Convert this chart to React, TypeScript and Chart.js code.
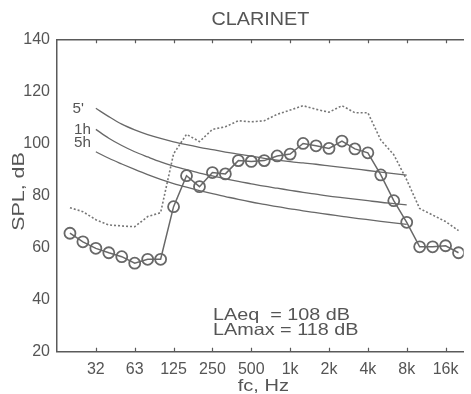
import React, { useEffect, useRef } from 'react';
import { Chart, registerables } from 'chart.js';

Chart.register(...registerables);

// Third-octave band centre frequencies (Hz)
const bandFreqs = [20, 25, 31.5, 40, 50, 63, 80, 100, 125, 160, 200, 250, 315, 400, 500, 630, 800, 1000, 1250, 1600, 2000, 2500, 3150, 4000, 5000, 6300, 8000, 10000, 12500, 16000, 20000];

// Measured clarinet spectrum (circles), dB
const clarinetSPL = [65.5, 62.2, 59.7, 58.0, 56.5, 54.0, 55.5, 55.5, 75.7, 87.6, 83.4, 88.8, 88.3, 93.4, 93.1, 93.4, 95.2, 95.9, 100.0, 99.1, 98.1, 100.9, 97.9, 96.4, 87.9, 78.0, 69.7, 60.3, 60.3, 60.7, 58.0];

// Maximum spectrum (dotted), dB
const maxSPL = [75.3, 73.8, 70.7, 68.7, 68.3, 68.0, 71.9, 73.4, 96.0, 103.5, 100.7, 105.4, 106.4, 108.7, 108.3, 108.7, 111.2, 112.8, 114.5, 113.1, 112.0, 114.5, 111.8, 111.8, 101.3, 95.7, 86.0, 75.0, 72.5, 70.0, 66.5];

// Criterion curves (31.5 Hz .. 8 kHz)
const critFreqs = [31.5, 40, 50, 63, 80, 100, 125, 160, 200, 250, 315, 400, 500, 630, 800, 1000, 1250, 1600, 2000, 2500, 3150, 4000, 5000, 6300, 8000];
const crit5min = [113.5, 110.3, 107.4, 105.2, 103.4, 101.9, 100.6, 99.5, 98.5, 97.6, 96.7, 95.9, 95.1, 94.3, 93.6, 93.0, 92.5, 92.0, 91.4, 90.8, 90.2, 89.6, 89.0, 88.4, 87.8];
const crit1h = [105.4, 102.0, 99.2, 96.8, 94.8, 92.9, 91.3, 89.9, 88.6, 87.5, 86.4, 85.4, 84.5, 83.6, 82.8, 82.0, 81.2, 80.5, 79.8, 79.2, 78.6, 78.0, 77.4, 76.9, 76.4];
const crit5h = [96.8, 94.3, 92.1, 90.0, 88.0, 86.2, 84.6, 83.2, 81.9, 80.7, 79.6, 78.5, 77.5, 76.6, 75.7, 74.9, 74.1, 73.4, 72.7, 72.0, 71.3, 70.7, 70.1, 69.5, 68.9];
const critLabels = ["5'", '1h', '5h'];

// Axis ticks
const tickFreqs = [31.5, 63, 125, 250, 500, 1000, 2000, 4000, 8000, 16000];
const tickLabels = ['32', '63', '125', '250', '500', '1k', '2k', '4k', '8k', '16k'];
const yTicks = [20, 40, 60, 80, 100, 120, 140];

const titleText = 'CLARINET';
const xTitle = 'fc, Hz';
const yTitle = 'SPL, dB';
const noteLines = ['LAeq  = 108 dB', 'LAmax = 118 dB'];

const FONT = '"Liberation Sans", Arial, Helvetica, sans-serif';
const TEXT = '#555555';
const AXIS = '#5a5a5a';
const LINE = '#686868';

const bandPos = (f: number) => Math.round(10 * Math.log10(f / 1000));
const pts = (freqs: number[], vals: number[]) => freqs.map((f, i) => ({ x: bandPos(f), y: vals[i] }));

function stretchText(ctx: CanvasRenderingContext2D, text: string, x: number, y: number, size: number, sx: number, align: CanvasTextAlign, rot = 0) {
  ctx.save();
  ctx.translate(x, y);
  if (rot) ctx.rotate(rot);
  ctx.scale(sx, 1);
  ctx.font = `${size}px ${FONT}`;
  ctx.fillStyle = TEXT;
  ctx.textAlign = align;
  ctx.textBaseline = 'alphabetic';
  ctx.fillText(text, 0, 0);
  ctx.restore();
}

const decorPlugin = {
  id: 'decor',
  afterDraw(chart: any) {
    const ctx: CanvasRenderingContext2D = chart.ctx;
    const xs = chart.scales.x;
    const ys = chart.scales.y;
    const { top, bottom, left, right } = chart.chartArea;
    // inward tick marks top and bottom
    ctx.save();
    ctx.strokeStyle = AXIS;
    ctx.lineWidth = 1.2;
    tickFreqs.forEach((f) => {
      const px = Math.round(xs.getPixelForValue(bandPos(f))) + 0.5;
      ctx.beginPath();
      ctx.moveTo(px, bottom);
      ctx.lineTo(px, bottom - 4);
      ctx.moveTo(px, top);
      ctx.lineTo(px, top + 4);
      ctx.stroke();
    });
    ctx.restore();

    const cx = (left + right) / 2;
    stretchText(ctx, titleText, cx, 25, 18.5, 1.07, 'center');
    stretchText(ctx, xTitle, cx + 3, 391, 16, 1.25, 'center');
    stretchText(ctx, yTitle, 24, (top + bottom) / 2 - 4, 16.5, 1.3, 'center', -Math.PI / 2);

    // criterion labels
    const y0 = critFreqs[0];
    const p0 = xs.getPixelForValue(bandPos(y0));
    stretchText(ctx, critLabels[0], p0 - 12, ys.getPixelForValue(crit5min[0]) + 5, 14.5, 1.05, 'right');
    stretchText(ctx, critLabels[1], p0 - 5, ys.getPixelForValue(crit1h[0]) + 5, 14.5, 1.05, 'right');
    stretchText(ctx, critLabels[2], p0 - 5, ys.getPixelForValue(crit5h[0]) - 5, 14.5, 1.05, 'right');

    // annotation
    stretchText(ctx, noteLines[0], left + 156, 319.5, 16.5, 1.2, 'left');
    stretchText(ctx, noteLines[1], left + 156, 334.5, 16.5, 1.2, 'left');
  },
};

export default function App() {
  const ref = useRef<HTMLCanvasElement>(null);
  useEffect(() => {
    const canvas = ref.current!;
    const xMin = bandPos(16);
    const xMax = 13.4;
    const chart = new Chart(canvas, {
      type: 'line',
      data: {
        datasets: [
          { data: pts(critFreqs, crit5min), borderColor: LINE, borderWidth: 1.3, pointRadius: 0, cubicInterpolationMode: 'monotone' },
          { data: pts(critFreqs, crit1h), borderColor: LINE, borderWidth: 1.3, pointRadius: 0, cubicInterpolationMode: 'monotone' },
          { data: pts(critFreqs, crit5h), borderColor: LINE, borderWidth: 1.3, pointRadius: 0, cubicInterpolationMode: 'monotone' },
          { data: pts(bandFreqs, maxSPL), borderColor: '#777777', borderWidth: 1.6, borderDash: [2, 2], pointRadius: 0 },
          {
            data: pts(bandFreqs, clarinetSPL),
            borderColor: LINE,
            borderWidth: 1.5,
            pointRadius: 5.5,
            pointBorderWidth: 1.8,
            pointBorderColor: LINE,
            pointBackgroundColor: 'rgba(0,0,0,0)',
          },
        ] as any,
      },
      options: {
        responsive: false,
        animation: false,
        devicePixelRatio: 1,
        layout: { padding: 0 },
        plugins: { legend: { display: false }, tooltip: { enabled: false }, title: { display: false } },
        scales: {
          x: {
            type: 'linear',
            position: 'bottom',
            min: xMin,
            max: xMax,
            grid: { display: false, drawTicks: false },
            border: { display: true, color: AXIS, width: 1.5 },
            ticks: {
              font: { family: FONT, size: 16 },
              color: TEXT,
              padding: 8,
              autoSkip: false,
              maxRotation: 0,
              callback: (_v: any, i: number) => tickLabels[i] ?? '',
            },
            afterBuildTicks: (s: any) => {
              s.ticks = tickFreqs.map((f) => ({ value: bandPos(f) }));
            },
            afterFit: (s: any) => {
              s.height = 42.3;
            },
          },
          xTop: {
            type: 'linear',
            position: 'top',
            min: xMin,
            max: xMax,
            grid: { display: false, drawTicks: false },
            border: { display: true, color: AXIS, width: 1.5 },
            ticks: { display: false },
            afterFit: (s: any) => {
              s.height = 39.3;
            },
          },
          y: {
            min: 20,
            max: 140,
            grid: { display: false, drawTicks: false },
            border: { display: true, color: AXIS, width: 1.5 },
            ticks: { font: { family: FONT, size: 16 }, color: TEXT, padding: 7 },
            afterBuildTicks: (s: any) => {
              s.ticks = yTicks.map((v) => ({ value: v }));
            },
            afterFit: (s: any) => {
              s.width = 57;
            },
          },
        },
      } as any,
      plugins: [decorPlugin],
    });
    return () => chart.destroy();
  }, []);
  return (
    <div style={{ position: 'fixed', left: 0, top: 0, width: 471, height: 394, background: '#fff' }}>
      <canvas ref={ref} width={471} height={394} style={{ display: 'block' }} />
    </div>
  );
}
